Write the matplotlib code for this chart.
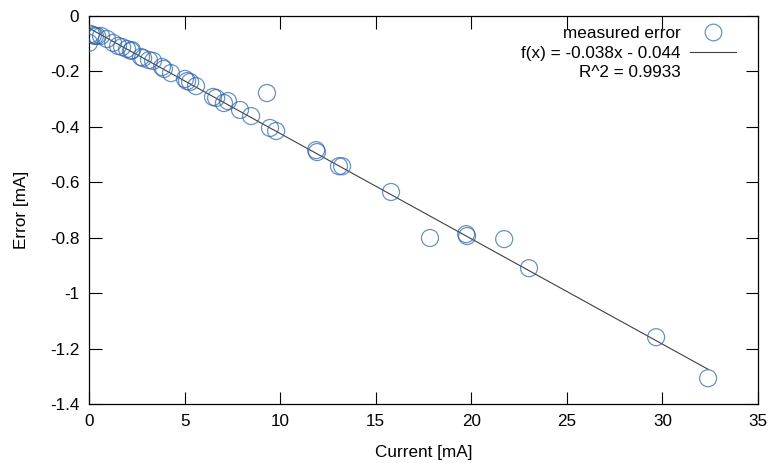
import numpy as np
import matplotlib
matplotlib.use("Agg")
from matplotlib import pyplot as plt
from matplotlib.ticker import FormatStrFormatter, MultipleLocator
from matplotlib.lines import Line2D

plt.rcParams['font.family'] = ['Liberation Sans', 'DejaVu Sans']
plt.rcParams['axes.unicode_minus'] = False

# measured points (current, error)
current = [0.00, 0.10, 0.21, 0.31, 0.42, 0.63, 0.94, 1.26, 1.52, 1.73,
           1.99, 2.20, 2.25, 2.72, 2.83, 3.14, 3.35, 3.82, 3.92, 4.29,
           5.02, 5.13, 5.29, 5.60, 6.49, 6.65, 7.06, 7.27, 7.90, 8.48,
           9.31, 9.47, 9.79, 11.88, 11.93, 13.08, 13.24, 15.80, 17.84, 19.73,
           19.78, 21.72, 23.02, 29.67, 32.39]
error = [-0.097, -0.065, -0.069, -0.072, -0.072, -0.072, -0.083, -0.097, -0.108, -0.112,
         -0.119, -0.126, -0.123, -0.148, -0.152, -0.159, -0.162, -0.184, -0.191, -0.206,
         -0.227, -0.235, -0.238, -0.253, -0.292, -0.296, -0.314, -0.307, -0.339, -0.361,
         -0.278, -0.404, -0.415, -0.484, -0.491, -0.542, -0.542, -0.635, -0.801, -0.787,
         -0.794, -0.805, -0.910, -1.159, -1.307]

slope = -0.038
offset = -0.044

fs = 12.3

fig = plt.figure(figsize=(7.69, 4.63), dpi=100)
ax = fig.add_axes([89/769, 1-404/463, (758-89)/769, (404-16)/463])

ax.scatter(current, error, s=150, facecolors='none', edgecolors='#2a64a8',
           linewidths=0.9, alpha=0.7, zorder=3)

xs = np.array([min(current), max(current)])
ax.plot(xs, slope*xs + offset, color='#404040', lw=0.8, zorder=2)

ax.set_xlim(0, 35)
ax.set_ylim(-1.4, 0)
ax.xaxis.set_major_locator(MultipleLocator(5))
ax.yaxis.set_major_locator(MultipleLocator(0.2))
ax.xaxis.set_major_formatter(FormatStrFormatter('%g'))
ax.yaxis.set_major_formatter(FormatStrFormatter('%g'))
ax.tick_params(direction='in', length=9, width=0.8, top=True, right=True,
               labelsize=fs, pad=7, colors='black')
for sp in ax.spines.values():
    sp.set_linewidth(0.9)

ax.set_xlabel('Current [mA]', fontsize=fs, labelpad=12)
ax.set_ylabel('Error [mA]', fontsize=fs, labelpad=15)

h_pts = Line2D([], [], ls='none', marker='o', ms=12, mfc='none',
               mec='#2a64a8', mew=0.9, alpha=0.7)
h_fit = Line2D([], [], color='#404040', lw=0.8)
h_none = Line2D([], [], ls='none')
ax.legend([h_pts, h_fit, h_none],
          ['measured error', 'f(x) = -0.038x - 0.044', 'R^2 = 0.9933'],
          loc='upper right', bbox_to_anchor=(0.983, 1.0), markerfirst=False,
          frameon=False, fontsize=fs, handlelength=2.7, handletextpad=0.55,
          labelspacing=0.27, borderaxespad=0.2)

fig.savefig('out.png', dpi=100)
